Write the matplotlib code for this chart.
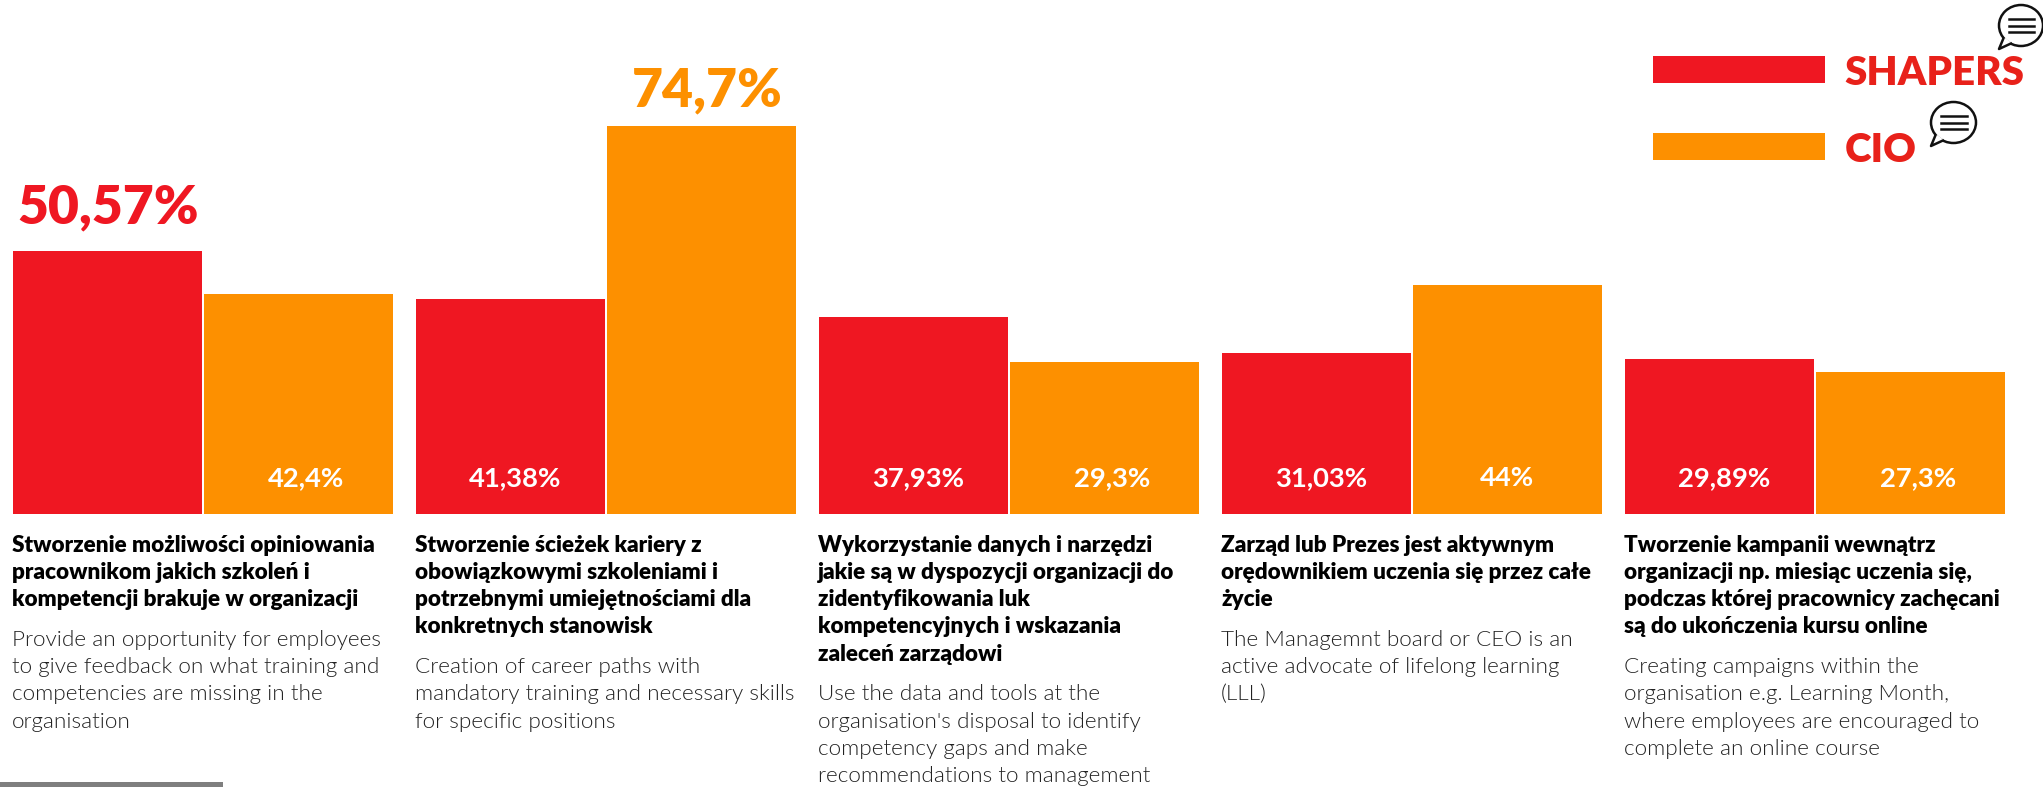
import matplotlib
matplotlib.use("Agg")
import matplotlib.pyplot as plt
from matplotlib.patches import Ellipse, Polygon, Rectangle

plt.rcParams['font.family'] = ['Lato', 'DejaVu Sans']

W, H = 2043, 787
RED = '#ef1722'
ORANGE = '#fd9000'
LEGEND_RED = '#e8211a'

shapers = [50.57, 41.38, 37.93, 31.03, 29.89]
cio = [42.4, 74.7, 29.3, 44, 27.3]
shapers_labels = ['50,57%', '41,38%', '37,93%', '31,03%', '29,89%']
cio_labels = ['42,4%', '74,7%', '29,3%', '44%', '27,3%']

titles = [
    ['Stworzenie możliwości opiniowania', 'pracownikom jakich szkoleń i',
     'kompetencji brakuje w organizacji'],
    ['Stworzenie ścieżek kariery z', 'obowiązkowymi szkoleniami i',
     'potrzebnymi umiejętnościami dla', 'konkretnych stanowisk'],
    ['Wykorzystanie danych i narzędzi', 'jakie są w dyspozycji organizacji do',
     'zidentyfikowania luk', 'kompetencyjnych i wskazania', 'zaleceń zarządowi'],
    ['Zarząd lub Prezes jest aktywnym', 'orędownikiem uczenia się przez całe', 'życie'],
    ['Tworzenie kampanii wewnątrz', 'organizacji np. miesiąc uczenia się,',
     'podczas której pracownicy zachęcani', 'są do ukończenia kursu online'],
]
subtitles = [
    ['Provide an opportunity for employees', 'to give feedback on what training and',
     'competencies are missing in the', 'organisation'],
    ['Creation of career paths with', 'mandatory training and necessary skills',
     'for specific positions'],
    ['Use the data and tools at the', "organisation's disposal to identify",
     'competency gaps and make', 'recommendations to management'],
    ['The Managemnt board or CEO is an', 'active advocate of lifelong learning', '(LLL)'],
    ['Creating campaigns within the', 'organisation e.g. Learning Month,',
     'where employees are encouraged to', 'complete an online course'],
]

# pixel helpers, y measured from the top of the figure
def fx(x):
    return x / W

def fy(y):
    return 1 - y / H

fig = plt.figure(figsize=(W / 100, H / 100), dpi=100, facecolor='white')

# bars live in their own axes: 1 unit on x = one group, 5.2 px per percent on y
group_px = 403
bar_px = 188.5
gap_px = 2.5
left_px = 13
base_px = 514
ax = fig.add_axes([0, fy(base_px), 1, base_px / H])
ax.set_xlim(-left_px / group_px, (W - left_px) / group_px)
ax.set_ylim(0, base_px / 5.2)
ax.axis('off')

bw = bar_px / group_px
gap = gap_px / group_px
# offsets in points for the two large labels above their bars
big_offset = {'50,57%': (1, 20), '74,7%': (4.5, 14)}
for i in range(5):
    ax.bar(i, shapers[i], width=bw, align='edge', color=RED)
    ax.bar(i + bw + gap, cio[i], width=bw, align='edge', color=ORANGE)

    for x0, v, lab, col in [(i, shapers[i], shapers_labels[i], RED),
                            (i + bw + gap, cio[i], cio_labels[i], ORANGE)]:
        xc = x0 + bw / 2
        if lab in big_offset:
            ax.annotate(lab, (xc, v), xytext=big_offset[lab], textcoords='offset points',
                        ha='center', va='baseline', color=col, fontsize=38.5, fontweight=800)
        else:
            # inside labels sit a little right of centre, the orange ones more so
            dx = 3.4 if col == RED else 5.5
            if lab == '44%':
                dx = 0
            ax.annotate(lab, (xc, 0), xytext=(dx, 26), textcoords='offset points',
                        ha='center', va='center', color='white', fontsize=19.7, fontweight='bold')

    # description block under the bars
    tx = left_px + i * group_px - 1
    y = 545
    for line in titles[i]:
        fig.text(fx(tx), fy(y), line, fontsize=16.2, fontweight=800, color='black',
                 ha='left', va='center')
        y += 27.3
    y += 13
    for line in subtitles[i]:
        fig.text(fx(tx), fy(y), line, fontsize=16.2, fontweight=300, color='#222222',
                 ha='left', va='center')
        y += 27.3

# legend
for y0, col, lab, lx in [(56, RED, 'SHAPERS', 1844), (133, ORANGE, 'CIO', 1845)]:
    fig.add_artist(Rectangle((fx(1653), fy(y0 + 27)), 172 / W, 27 / H,
                             transform=fig.transFigure, color=col, lw=0))
    fig.text(fx(lx), fy(y0 + 29), lab, fontsize=29, fontweight=800, color=LEGEND_RED,
             ha='left', va='baseline')

# speech bubbles next to the legend labels
def bubble(x0, y0, x1, y1, tail):
    cx, cy = (x0 + x1) / 2, (y0 + y1) / 2
    fig.add_artist(Ellipse((fx(cx), fy(cy)), (x1 - x0) / W, (y1 - y0) / H,
                           transform=fig.transFigure, fc='white', ec='#111111', lw=1.8))
    pts = [(fx(tail[0] + 5), fy(tail[1] - 12)), (fx(tail[0]), fy(tail[1])),
           (fx(tail[0] + 13), fy(tail[1] - 6))]
    fig.add_artist(Polygon(pts, closed=False, transform=fig.transFigure,
                           fc='white', ec='#111111', lw=1.8, joinstyle='round'))
    for k in (-6.5, 0, 6.5):
        fig.add_artist(plt.Line2D([fx(x0 + 10), fx(x1 - 9)], [fy(cy + k), fy(cy + k)],
                                  transform=fig.transFigure, color='#111111', lw=1.8))

bubble(1999, 5, 2043, 46, (1999, 49))
bubble(1931, 102, 1976, 143, (1931, 146))

# grey rule at the bottom edge
fig.add_artist(Rectangle((0, 0), 223 / W, 5 / H, transform=fig.transFigure,
                         color='#7f7f7f', lw=0))

fig.savefig('out.png', dpi=100)
